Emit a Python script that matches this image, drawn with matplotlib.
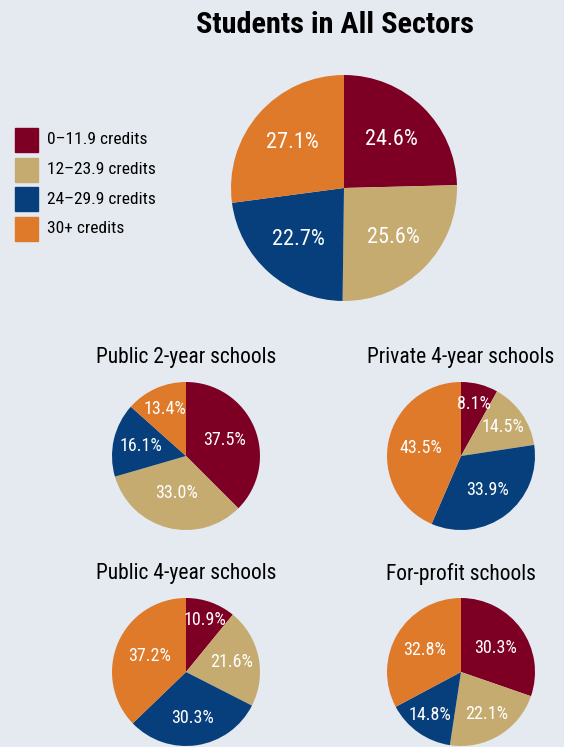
import matplotlib
matplotlib.use('Agg')
import matplotlib.pyplot as plt
from matplotlib import font_manager
from matplotlib.patches import Rectangle
import numpy as np

categories = ['0\u201311.9 credits', '12\u201323.9 credits', '24\u201329.9 credits', '30+ credits']
colors = ['#7D0024', '#C5AB70', '#073F7C', '#DE7A2A']

all_sectors = [24.6, 25.6, 22.7, 27.1]
public_2yr = [37.5, 33.0, 16.1, 13.4]
private_4yr = [8.1, 14.5, 33.9, 43.5]
public_4yr = [10.9, 21.6, 30.3, 37.2]
for_profit = [30.3, 22.1, 14.8, 32.8]

titles = ['Public 2-year schools', 'Private 4-year schools',
          'Public 4-year schools', 'For-profit schools']

# pick a narrow font if one is installed
names = set(f.name for f in font_manager.fontManager.ttflist)
font = 'DejaVu Sans'
for cand in ['Roboto Condensed', 'Liberation Sans Narrow', 'DejaVu Sans Condensed', 'Open Sans Condensed']:
    if cand in names:
        font = cand
        break
plt.rcParams['font.family'] = [font, 'DejaVu Sans']

W, H = 564, 747
bg = '#E5EAF1'
fig = plt.figure(figsize=(W / 100, H / 100), dpi=100, facecolor=bg)


def pie_axes(cx, cy, r):
    ax = fig.add_axes([(cx - r) / W, 1 - (cy + r) / H, 2 * r / W, 2 * r / H])
    return ax


def draw_pie(ax, vals, dists, size):
    wedges, _ = ax.pie(vals, colors=colors, startangle=90, counterclock=False,
                       radius=1, wedgeprops=dict(linewidth=0))
    ax.set_xlim(-1, 1)
    ax.set_ylim(-1, 1)
    ax.axis('off')
    for w, v, d in zip(wedges, vals, dists):
        a = np.deg2rad((w.theta1 + w.theta2) / 2)
        ax.text(d * np.cos(a), d * np.sin(a), f'{v:.1f}%', color='white',
                fontsize=size, ha='center', va='center')


# main pie
ax = pie_axes(344, 188, 113)
draw_pie(ax, all_sectors, [0.6, 0.62, 0.61, 0.61], 16)
fig.text(335 / W, 1 - 25 / H, 'Students in All Sectors', fontsize=21.8,
         fontweight='bold', ha='center', va='center')

# legend
for i, (c, lab) in enumerate(zip(colors, categories)):
    y = 140 + i * 29.5
    fig.patches.append(Rectangle((15 / W, 1 - (y + 12) / H), 23 / W, 24 / H,
                                 transform=fig.transFigure, color=c))
    fig.text(47 / W, 1 - y / H, lab, fontsize=12.5, ha='left', va='center')

small = [(186, 456, public_2yr, [0.56, 0.52, 0.63, 0.69]),
         (461, 456, private_4yr, [0.72, 0.69, 0.58, 0.55]),
         (186, 672, public_4yr, [0.75, 0.63, 0.63, 0.54]),
         (461, 672, for_profit, [0.57, 0.67, 0.72, 0.58])]
for (cx, cy, vals, dists), t in zip(small, titles):
    ax = pie_axes(cx, cy, 74)
    draw_pie(ax, vals, dists, 13)
    fig.text(cx / W, 1 - (cy - 98) / H, t, fontsize=15.5, ha='center', va='center')

fig.savefig('out.png', dpi=100, facecolor=bg)
